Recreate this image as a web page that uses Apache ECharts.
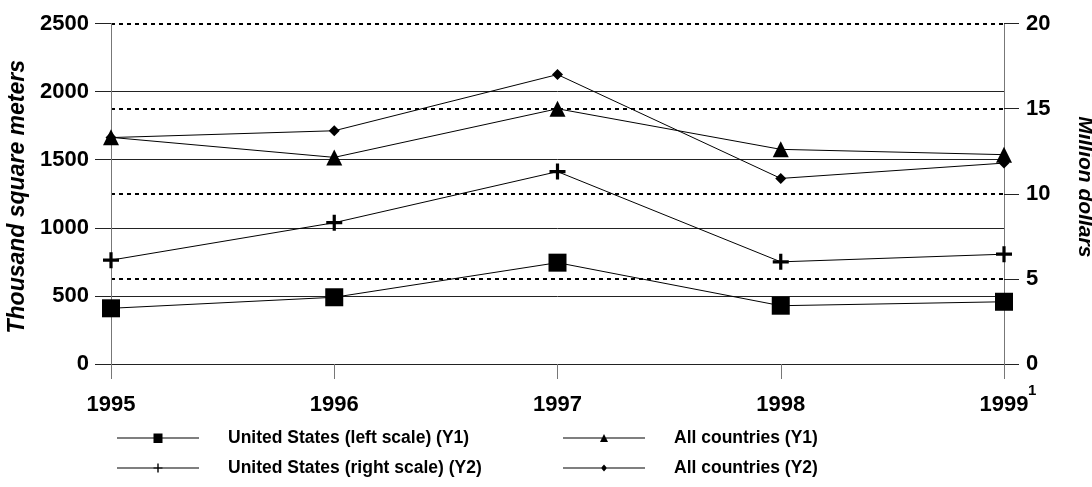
<!DOCTYPE html>
<html><head><meta charset="utf-8">
<script src="https://cdn.jsdelivr.net/npm/echarts@6/dist/echarts.min.js"></script>
<style>html,body{margin:0;padding:0;background:#fff}#c{width:1092px;height:487px}</style>
</head><body><div id="c"></div>
<script>
// ---- data ----
const years = ['1995', '1996', '1997', '1998', '1999'];
const usLeftScale = [409, 490, 744, 428, 457];        // Thousand square meters (Y1)
const allCountriesY1 = [1664, 1517, 1874, 1576, 1537]; // Thousand square meters (Y1)
const usRightScale = [6.1, 8.3, 11.3, 6.0, 6.45];      // Million dollars (Y2)
const allCountriesY2 = [13.3, 13.7, 17.0, 10.9, 11.8]; // Million dollars (Y2)
const leftAxis = { min: 0, max: 2500, interval: 500, name: 'Thousand square meters' };
const rightAxis = { min: 0, max: 20, interval: 5, name: 'Million dollars' };
const seriesNames = ['United States (left scale) (Y1)', 'United States (right scale) (Y2)', 'All countries (Y1)', 'All countries (Y2)'];
const footnoteYear = '1999';
const footnoteMark = '1';

// ---- styles ----
const FONT = 'Liberation Sans, Arial, sans-serif';
const BLACK = '#000';
const plusPath = 'path://M4,0H6V4H10V6H6V10H4V6H0V4H4Z';
const speck = 'M0,0L0.01,0L0,0.01Z M82,12L81.99,12L82,11.99Z ';
const legLine = 'M0,5.5H82V6.5H0Z ';
const legendIcons = {
  [seriesNames[0]]: 'path://' + speck + legLine + 'M36.5,1.5H45.5V11H36.5Z',
  [seriesNames[1]]: 'path://' + speck + legLine + 'M40.3,1.5H41.7V5.3H45.5V6.7H41.7V10.5H40.3V6.7H36.5V5.3H40.3Z',
  [seriesNames[2]]: 'path://' + speck + legLine + 'M41,2L45,10H37Z',
  [seriesNames[3]]: 'path://' + speck + legLine + 'M41,2.5L44,6L41,9.5L38,6Z'
};

function lineSeries(name, data, yIdx, symbol, size) {
  return {
    name, type: 'line', data, yAxisIndex: yIdx,
    symbol, symbolSize: size,
    lineStyle: { color: BLACK, width: 1 },
    itemStyle: { color: BLACK },
    emphasis: { disabled: true },
    z: 3
  };
}

const legendCommon = {
  orient: 'vertical', itemWidth: 82, itemHeight: 12, itemGap: 10, padding: 0,
  selectedMode: false,
  textStyle: { fontFamily: FONT, fontSize: 17.5, fontWeight: 'bold', color: BLACK, lineHeight: 20, padding: [0, 0, 0, 24] }
};

const option = {
  animation: false,
  backgroundColor: '#fff',
  grid: { left: 111, right: 88, top: 23.5, bottom: 123, containLabel: false, outerBoundsMode: 'none' },
  xAxis: {
    type: 'category', data: years, boundaryGap: false,
    axisLine: { lineStyle: { color: '#222', width: 1 } },
    axisTick: { show: true, length: 15, lineStyle: { color: '#777' } },
    axisLabel: { margin: 29, fontFamily: FONT, fontSize: 22, fontWeight: 'bold', color: BLACK, lineHeight: 24 },
    splitLine: { show: false }
  },
  yAxis: [
    {
      type: 'value', position: 'left', min: leftAxis.min, max: leftAxis.max, interval: leftAxis.interval,
      name: leftAxis.name, nameLocation: 'middle', nameGap: 81, nameRotate: 90,
      nameTextStyle: { fontFamily: FONT, fontSize: 23, fontWeight: 'bold', fontStyle: 'italic', color: BLACK, padding: [0, 6, 0, 0] },
      axisLine: { show: true, lineStyle: { color: '#777', width: 1 } },
      axisTick: { show: true, length: 16, lineStyle: { color: '#222' } },
      axisLabel: { margin: 22, fontFamily: FONT, fontSize: 22, fontWeight: 'bold', color: BLACK, formatter: v => String(v) },
      splitLine: { show: true, showMaxLine: false, showMinLine: false, lineStyle: { color: '#222', width: 1, type: 'solid' } }
    },
    {
      type: 'value', position: 'right', min: rightAxis.min, max: rightAxis.max, interval: rightAxis.interval,
      name: rightAxis.name, nameLocation: 'middle', nameGap: 70, nameRotate: -90,
      nameTextStyle: { fontFamily: FONT, fontSize: 21, fontWeight: 'bold', fontStyle: 'italic', color: BLACK, padding: [0, 14, 0, 0] },
      axisLine: { show: true, lineStyle: { color: '#777', width: 1 } },
      axisTick: { show: true, length: 15, lineStyle: { color: '#222' } },
      axisLabel: { margin: 22, fontFamily: FONT, fontSize: 22, fontWeight: 'bold', color: BLACK, formatter: v => String(v) },
      splitLine: { show: true, showMinLine: false, lineStyle: { color: BLACK, width: 2, type: [4, 4] } }
    }
  ],
  legend: [
    Object.assign({}, legendCommon, {
      left: 117, top: 428,
      data: [seriesNames[0], seriesNames[1]].map(n => ({ name: n, icon: legendIcons[n] }))
    }),
    Object.assign({}, legendCommon, {
      left: 563, top: 428,
      data: [seriesNames[2], seriesNames[3]].map(n => ({ name: n, icon: legendIcons[n] }))
    })
  ],
  series: [
    lineSeries(seriesNames[0], usLeftScale, 0, 'rect', 18),
    lineSeries(seriesNames[1], usRightScale, 1, plusPath, 16),
    lineSeries(seriesNames[2], allCountriesY1, 0, 'triangle', 16),
    lineSeries(seriesNames[3], allCountriesY2, 1, 'diamond', 11)
  ]
};

const chart = echarts.init(document.getElementById('c'), null, { renderer: 'canvas' });
chart.setOption(option);
// footnote marker placed next to the 1999 tick label, using the axis scale
const fx = chart.convertToPixel({ xAxisIndex: 0 }, footnoteYear);
const fy = chart.convertToPixel({ yAxisIndex: 0 }, leftAxis.min);
chart.setOption({
  graphic: [{
    type: 'text', x: fx + 24, y: fy + 19,
    style: { text: footnoteMark, fontFamily: FONT, fontSize: 15, fontWeight: 'bold', fill: BLACK }
  }]
});
</script>
</body></html>
